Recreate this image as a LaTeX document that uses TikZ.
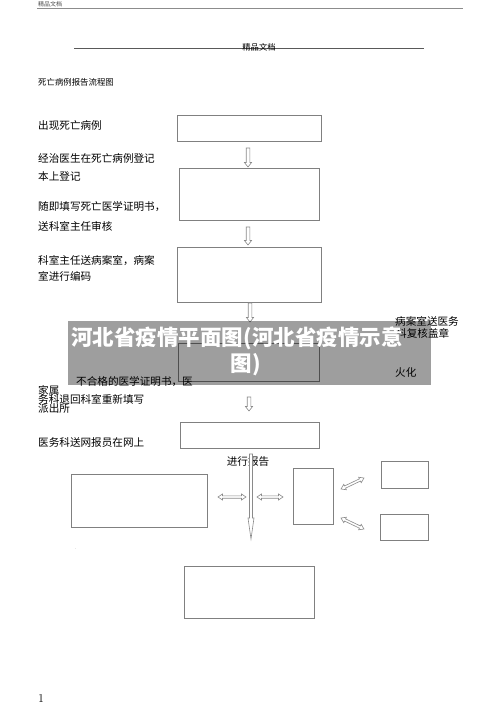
\documentclass[tikz,border=0pt]{standalone}
\usepackage{fontspec}
\newfontfamily\cjk{Noto Sans CJK SC}
\usetikzlibrary{calc}
\definecolor{boxgray}{HTML}{808080}
\definecolor{arrgray}{HTML}{8A8A8A}
\tikzset{
  box/.style={draw=boxgray, line width=0.8pt, inner sep=0pt, fill=none},
  lbl/.style={anchor=west, inner sep=0pt, font=\cjk\fontsize{10.6}{12}\selectfont},
  arr/.style={draw=arrgray, line width=0.6pt, fill=white},
  banner/.style={inner sep=0pt, text=white, font=\cjk\bfseries\fontsize{21.5}{24}\selectfont}
}
\newcommand\vhollow[3]{%
  \draw[arr] (#1-1.8,#2) -- (#1+1.8,#2) -- (#1+1.8,#3-4.5) -- (#1+3.6,#3-4.5) -- (#1,#3) -- (#1-3.6,#3-4.5) -- (#1-1.8,#3-4.5) -- cycle;}
\newcommand\dblarr[4]{%
  \begin{scope}[shift={(#1,#2)},rotate=#3]
  \draw[arr] (0,0) -- (4.5,3) -- (4.5,1.2) -- (#4-4.5,1.2) -- (#4-4.5,3) -- (#4,0) -- (#4-4.5,-3) -- (#4-4.5,-1.2) -- (4.5,-1.2) -- (4.5,-3) -- cycle;
  \end{scope}}
\begin{document}
\begin{tikzpicture}[x=1pt,y=-1pt]
\useasboundingbox[fill=white] (0,0) rectangle (500,707);

% header
\node[anchor=west, inner sep=0pt, font=\cjk\fontsize{6}{7}\selectfont, text=black!70] (hdr) at (38,4) {精品文档};
\draw[black!45, line width=0.6pt] (37,8.5) -- (463,8.5);
\draw[black!65, line width=0.7pt] (74,48) -- (424,48);
\node[inner sep=0pt, font=\cjk\fontsize{8.3}{9}\selectfont] (hdr2) at (259,47) {精品文档};
\node[anchor=west, inner sep=0pt, font=\cjk\fontsize{8.4}{9}\selectfont] (title) at (38,82) {死亡病例报告流程图};

% boxes
\node[box, minimum width=144pt, minimum height=26pt] (b1) at (249,128) {};
\node[box, minimum width=140pt, minimum height=52pt] (b2) at (249,194) {};
\node[box, minimum width=144pt, minimum height=55pt] (b3) at (249,274.5) {};
\node[box, minimum width=141pt, minimum height=38pt] (b4) at (248.5,362) {};
\node[box, minimum width=139pt, minimum height=26pt] (b5) at (249.5,435) {};
\node[box, minimum width=136pt, minimum height=53pt] (b6) at (139,500.5) {};
\node[box, minimum width=40pt, minimum height=56pt] (b7) at (313,496) {};
\node[box, minimum width=47pt, minimum height=27pt] (b8) at (404.5,474.5) {};
\node[box, minimum width=48pt, minimum height=26pt] (b9) at (404,527) {};
\node[box, minimum width=130pt, minimum height=52pt] (b10) at (249,592) {};

% left labels
\node[lbl] (t1) at (38,125) {出现死亡病例};
\node[lbl] (t2a) at (38,158) {经治医生在死亡病例登记};
\node[lbl] (t2b) at (38,176) {本上登记};
\node[lbl] (t3a) at (38,207) {随即填写死亡医学证明书，};
\node[lbl] (t3b) at (38,226) {送科室主任审核};
\node[lbl] (t4a) at (38,261) {科室主任送病案室，病案};
\node[lbl] (t4b) at (38,276) {室进行编码};
\node[lbl] (r1) at (395,321) {病案室送医务};
\node[lbl] (r2) at (396,333) {科复核盖章};
\node[lbl] (r3) at (395,372) {火化};
\node[lbl] (t5) at (76,382) {不合格的医学证明书，医};
\node[lbl] (t6a) at (38,390) {家属};
\node[lbl] (t6b) at (38,399) {务科退回科室重新填写};
\node[lbl] (t6c) at (38,408) {派出所};
\node[lbl] (t7) at (38,442) {医务科送网报员在网上};
\node[inner sep=0pt, font=\cjk\fontsize{10.6}{12}\selectfont] (t8) at (248,462) {进行报告};
\node[inner sep=0pt, font=\fontsize{5}{6}\selectfont, text=black!50] (dot) at (76,549) {.};
\node[anchor=west, inner sep=0pt, font=\fontsize{12}{14}\selectfont] (pg) at (38,699) {1};

% vertical hollow arrows
\vhollow{248}{148}{167}
\vhollow{248}{227}{245}
\vhollow{250}{303}{322}
\vhollow{249}{397}{411}
% long arrow
\draw[arr] (249.5,454) -- (252.5,454) -- (252.5,518) -- (254,518) -- (251,539) -- (248,518) -- (249.5,518) -- cycle;
% double arrows
\dblarr{218}{497}{0}{28}
\dblarr{257}{497}{0}{26}
\dblarr{341}{489}{25.6}{25.5}
\dblarr{341}{518}{-25.6}{25.5}

% banner overlay
\fill[black, opacity=0.38] (68,321) rectangle (431,385);
\node[banner] (ban1) at (237,338) {河北省疫情平面图(河北省疫情示意};
\node[banner] (ban2) at (246,365) {图)};
\end{tikzpicture}
\end{document}
